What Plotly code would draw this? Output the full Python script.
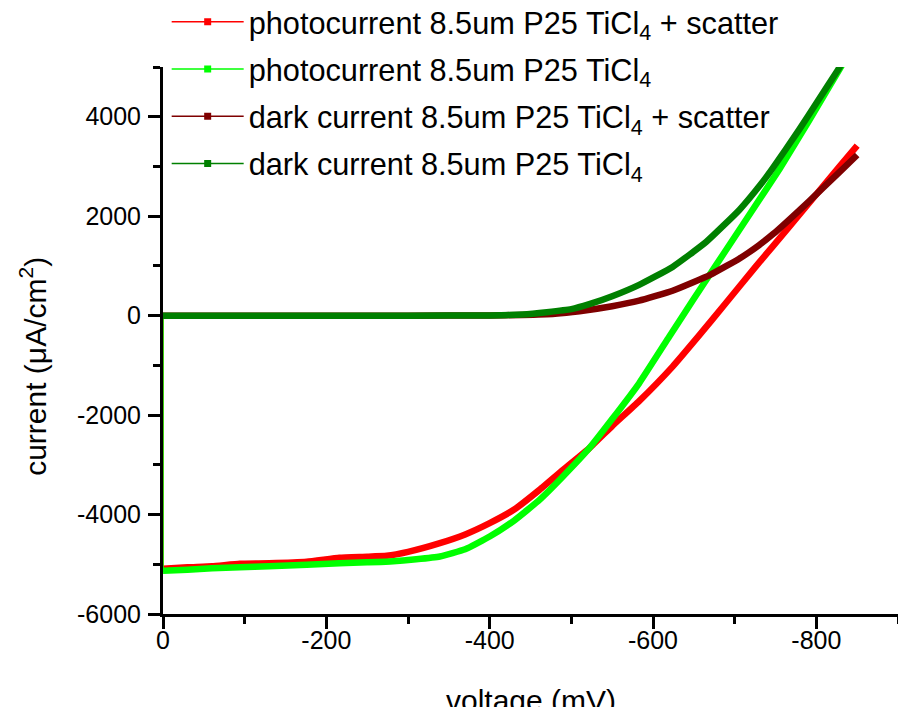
import plotly.graph_objects as go

# ---- data (voltage in mV, current in uA/cm^2) ----
v_photo_scatter = [0, 0, -30, -60, -94, -130, -176, -216, -250, -274, -300, -339, -370, -400,
                   -430, -461, -490, -522, -550, -583, -624, -657, -690, -726, -767, -795, -828, -850]
i_photo_scatter = [0, -5090, -5060, -5040, -4990, -4980, -4950, -4870, -4850, -4830, -4750, -4575, -4400, -4173,
                   -3900, -3504, -3100, -2666, -2220, -1720, -1025, -388, 270, 990, 1790, 2340, 2990, 3420]

v_photo = [0, 0, -30, -60, -94, -130, -176, -216, -250, -278, -310, -339, -370, -400,
           -430, -461, -490, -522, -550, -583, -620, -650, -677, -718, -755, -791, -830, -850]
i_photo = [0, -5131, -5110, -5080, -5058, -5040, -5011, -4977, -4960, -4944, -4900, -4844, -4700, -4442,
           -4120, -3705, -3230, -2666, -2080, -1360, -420, 340, 1010, 2030, 2950, 3920, 5000, 5530]

v_dark_scatter = [0, -100, -200, -300, -400, -440, -480, -510, -550, -583, -624, -670, -706, -730,
                  -747, -791, -828, -850]
i_dark_scatter = [0, 0, 0, 0, 5, 15, 40, 90, 190, 300, 500, 820, 1150, 1420,
                  1640, 2300, 2880, 3230]

v_dark = [0, -100, -200, -300, -400, -440, -470, -500, -522, -550, -583, -624, -665, -706,
          -731, -746, -779, -800, -826, -850]
i_dark = [0, 0, 0, 0, 5, 25, 70, 130, 230, 390, 620, 980, 1480, 2130,
          2620, 2950, 3740, 4270, 4930, 5560]

series_names = [
    "photocurrent 8.5um P25 TiCl<sub>4</sub> + scatter",
    "photocurrent 8.5um P25 TiCl<sub>4</sub>",
    "dark current 8.5um P25 TiCl<sub>4</sub> + scatter",
    "dark current 8.5um P25 TiCl<sub>4</sub>",
]
series_colors = ["#FF0000", "#00FF00", "#7F0000", "#008000"]

x_tick_vals = [0, -200, -400, -600, -800]
x_tick_text = ["0", "-200", "-400", "-600", "-800"]
y_tick_vals = [-6000, -4000, -2000, 0, 2000, 4000]
y_tick_text = ["-6000", "-4000", "-2000", "0", "2000", "4000"]

FONT = "Arial, 'Liberation Sans', sans-serif"

series = [
    (v_photo_scatter, i_photo_scatter, True),
    (v_photo, i_photo, True),
    (v_dark_scatter, i_dark_scatter, False),
    (v_dark, i_dark, False),
]

fig = go.Figure()
for (vx, iy, has_jump), color in zip(series, series_colors):
    start = 0
    if has_jump:
        fig.add_trace(go.Scatter(x=vx[:2], y=iy[:2], mode="lines",
                                 line=dict(color=color, width=1.5),
                                 showlegend=False, hoverinfo="skip"))
        start = 1
    fig.add_trace(go.Scatter(x=vx[start:], y=iy[start:], mode="lines",
                             line=dict(color=color, width=6.5, shape="spline", smoothing=0.4),
                             showlegend=False))

for k, (name, color) in enumerate(zip(series_names, series_colors)):
    fig.add_trace(go.Scatter(x=[None], y=[None], mode="lines+markers", name=name,
                             legendgroup=f"g{k}",
                             line=dict(color=color, width=1.5),
                             marker=dict(symbol="square", size=7, color=color)))

axis_common = dict(
    showline=True, linecolor="black", linewidth=3,
    ticks="outside", ticklen=12, tickwidth=3, tickcolor="black",
    showgrid=False, zeroline=False, mirror=False,
    tickfont=dict(family=FONT, size=25, color="black"),
)

fig.update_xaxes(range=[0, -900], tickmode="array", tickvals=x_tick_vals, ticktext=x_tick_text,
                 minor=dict(dtick=100, tick0=0, ticks="outside", ticklen=7, tickwidth=3, tickcolor="black"),
                 ticklabelstandoff=-10,
                 **axis_common)
fig.update_yaxes(range=[-6000, 5000], tickmode="array", tickvals=y_tick_vals, ticktext=y_tick_text,
                 minor=dict(dtick=1000, tick0=0, ticks="outside", ticklen=7, tickwidth=3, tickcolor="black"),
                 ticklabelstandoff=2,
                 **axis_common)

fig.add_annotation(text="current (\u03bcA/cm<sup>2</sup>)", xref="paper", yref="paper",
                   x=-0.176, y=0.453, textangle=-90, showarrow=False,
                   xanchor="center", yanchor="middle",
                   font=dict(family=FONT, size=30, color="black"))
fig.add_annotation(text="voltage (mV)", xref="paper", yref="paper",
                   x=0.5, y=-0.158, showarrow=False, xanchor="center", yanchor="middle",
                   font=dict(family=FONT, size=30, color="black"))

fig.update_layout(
    width=898, height=707,
    margin=dict(l=163, r=0, t=67, b=93, autoexpand=False),
    paper_bgcolor="white", plot_bgcolor="white",
    font=dict(family=FONT, size=25, color="black"),
    showlegend=True,
    legend=dict(x=0.005, y=1.131, xanchor="left", yanchor="top",
                bgcolor="rgba(0,0,0,0)", borderwidth=0,
                font=dict(family=FONT, size=30.7, color="black"),
                itemwidth=72, tracegroupgap=4.3, traceorder="grouped"),
)

fig.write_html("out.html", config={"displayModeBar": False},
               post_script="document.body.style.margin='0';document.body.style.overflow='hidden';")
